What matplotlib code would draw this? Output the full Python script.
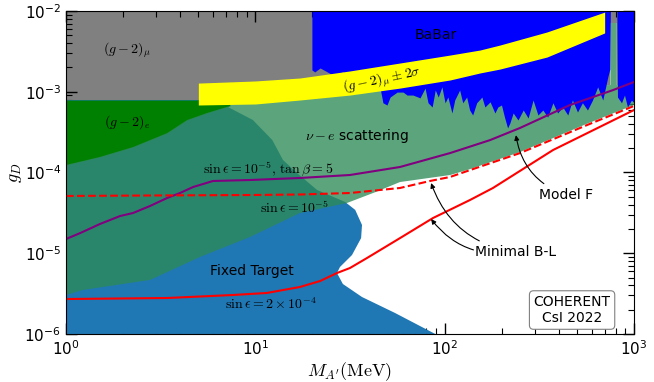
import matplotlib
matplotlib.use('Agg')
import matplotlib.pyplot as plt
import numpy as np

# (g-2)_mu grey region, lower edge
gray_x = [1, 7.35, 7.35, 750, 750, 812, 812, 1000]
gray_lo = [7.9e-4, 7.9e-4, 1.21e-3, 1.21e-3, 7.1e-3, 7.1e-3, 1.21e-3, 1.21e-3]

# (g-2)_e green region
ge_x = [1, 1.51, 2.26, 3.42, 4.36, 5.55, 7.35]
ge_lo = [1.24e-4, 1.56e-4, 2.07e-4, 3.08e-4, 4.47e-4, 5.46e-4, 6.67e-4]
ge_hi = 7.9e-4

# Fixed target polygon
ft_x = [1, 89.2, 54.7, 36.6, 29.0, 27.0, 28.0, 32.4, 36.2, 36.6, 33.7, 29.8,
        21.2, 16.6, 14.0, 12.3, 9.71, 7.16, 7.16, 1]
ft_y = [1e-6, 1e-6, 1.82e-6, 2.87e-6, 4.16e-6, 5.69e-6, 6.76e-6, 9.5e-6, 1.54e-5, 2.24e-5,
        3.44e-5, 4.32e-5, 6.07e-5, 9.86e-5, 1.43e-4, 2.52e-4, 4.47e-4, 6.48e-4, 7.9e-4, 7.9e-4]

# nu-e scattering region: upper edge then lower edge (right to left)
nue_top_x = [1, 1.51, 2.26, 3.42, 4.36, 5.55, 7.35, 7.35, 750, 750, 812, 812, 1000]
nue_top_y = [1.24e-4, 1.56e-4, 2.07e-4, 3.08e-4, 4.47e-4, 5.46e-4, 6.67e-4, 1.21e-3,
             1.21e-3, 7.1e-3, 7.1e-3, 1.21e-3, 1.21e-3]
nue_bot_x = [1000, 561, 250, 136, 107, 58.1, 43.3, 30.5, 17.2, 9.37, 5.10, 2.78, 1.23, 1]
nue_bot_y = [6.85e-4, 3.99e-4, 1.79e-4, 1.10e-4, 9.31e-5, 7.62e-5, 5.74e-5, 4.19e-5,
             3.15e-5, 1.59e-5, 8.99e-6, 4.67e-6, 3.51e-6, 3.04e-6]

# BaBar lower edge
babar_x = [19.9, 20.6, 22.0, 25.7, 29.0, 33.7, 45.3, 47.2, 49.6, 51.5, 56.1, 60.3, 63.3, 68.0,
           74.1, 78.8, 81.7, 85.9, 89.2, 92.5, 96.7, 100.5, 104, 109.3, 113, 120, 124.6, 130.7,
           135.5, 140.6, 147.6, 157.3, 163.1, 173.8, 184.2, 191, 199.6, 207, 215, 221, 230,
           244, 260, 276, 293, 311, 330, 350, 373, 395, 420, 447, 473, 503, 534, 568, 604,
           643, 684, 727, 745, 750, 812, 818, 859, 891, 924, 970, 1000]
babar_lo = [1.86e-3, 1.76e-3, 1.97e-3, 1.61e-3, 1.76e-3, 1.40e-3, 1.21e-3, 7.3e-4, 6.85e-4,
            8.6e-4, 9.9e-4, 9.9e-4, 9.1e-4, 9.1e-4, 8.4e-4, 1.11e-3, 7.3e-4, 6.48e-4, 1.05e-3,
            8.6e-4, 1.15e-3, 7.3e-4, 8.6e-4, 5.46e-4, 7.9e-4, 1.05e-3, 7.3e-4, 8.6e-4, 5.94e-4,
            5.15e-4, 7.3e-4, 8.6e-4, 6.48e-4, 7.5e-4, 5.46e-4, 6.48e-4, 6.85e-4, 4.86e-4,
            3.56e-4, 4.10e-4, 5.46e-4, 4.47e-4, 5.94e-4, 4.73e-4, 7.9e-4, 5.15e-4, 5.94e-4,
            4.86e-4, 7.3e-4, 5.46e-4, 6.48e-4, 5.15e-4, 7.9e-4, 5.61e-4, 7.3e-4, 5.94e-4,
            7.9e-4, 1.15e-3, 7.9e-4, 1.52e-3, 1.9e-3, 1e-2, 1e-2, 8.6e-4, 7.3e-4, 9.1e-4,
            6.48e-4, 7.9e-4, 7.3e-4]

# (g-2)_mu +- 2 sigma band
band_x = [5.0, 10, 17.2, 31.6, 58.1, 107, 154, 196, 347, 700]
band_hi = [1.28e-3, 1.36e-3, 1.48e-3, 1.81e-3, 2.27e-3, 2.85e-3, 3.29e-3, 3.79e-3, 5.5e-3, 9.7e-3]
band_lo = [6.85e-4, 7.05e-4, 7.9e-4, 9.1e-4, 1.11e-3, 1.40e-3, 1.71e-3, 1.91e-3, 2.69e-3, 5.35e-3]

# Model F: sin eps = 1e-5, tan beta = 5
mf_x = [1.0, 1.19, 1.51, 1.93, 2.26, 2.78, 3.42, 4.00, 4.69, 5.98, 9.37, 17.2, 31.6, 58.1,
        106.8, 173.8, 250, 459, 776, 1000]
mf_y = [1.50e-5, 1.78e-5, 2.30e-5, 2.89e-5, 3.15e-5, 3.85e-5, 4.83e-5, 5.57e-5, 6.61e-5,
        7.85e-5, 8.07e-5, 8.55e-5, 9.31e-5, 1.17e-4, 1.74e-4, 2.52e-4, 3.56e-4, 6.85e-4,
        1.05e-3, 1.32e-3]

# Minimal B-L: sin eps = 1e-5 (dashed)
bl5_x = [1.0, 2.78, 9.37, 17.2, 31.6, 58.1, 83.7, 106.8, 136, 250, 565, 1000]
bl5_y = [5.12e-5, 5.19e-5, 5.26e-5, 5.34e-5, 5.57e-5, 6.43e-5, 7.85e-5, 8.8e-5, 1.07e-4,
         1.74e-4, 3.87e-4, 6.67e-4]

# Minimal B-L: sin eps = 2e-4 (solid)
bl4_x = [1.0, 3.42, 7.62, 11.5, 17.2, 22.0, 27.0, 31.6, 38.9, 58.1, 86.8, 136, 180, 374, 1000]
bl4_y = [2.71e-6, 2.79e-6, 3.04e-6, 3.22e-6, 3.82e-6, 4.53e-6, 5.69e-6, 6.56e-6, 8.73e-6,
         1.54e-5, 2.73e-5, 4.56e-5, 6.43e-5, 1.90e-4, 5.94e-4]

fig = plt.figure(figsize=(6.54, 3.82), dpi=100)
ax = fig.add_axes([0.1009, 0.1257, 0.8685, 0.8455])
ax.set_xscale('log')
ax.set_yscale('log')
ax.set_xlim(1, 1000)
ax.set_ylim(1e-6, 1e-2)

# Shaded regions
ax.fill_between(gray_x, gray_lo, 1e-2, color='gray', lw=0, zorder=1)
ax.fill(ft_x, ft_y, color='#1f77b4', lw=0, zorder=2)
ax.fill_between(ge_x, ge_lo, ge_hi, color='green', lw=0, zorder=3)
ax.fill(nue_top_x + nue_bot_x, nue_top_y + nue_bot_y, color='seagreen', alpha=0.78, lw=0, zorder=4)
ax.fill_between(babar_x, babar_lo, 1e-2, color='blue', lw=0, zorder=5)
ax.fill_between(band_x, band_lo, band_hi, color='yellow', lw=0, zorder=6)

# Lines
ax.plot(mf_x, mf_y, color='purple', lw=1.5, zorder=7)
ax.plot(bl5_x, bl5_y, color='red', lw=1.5, ls='--', zorder=7)
ax.plot(bl4_x, bl4_y, color='red', lw=1.5, zorder=7)

# Labels inside
cm = dict(math_fontfamily='cm', zorder=8, ha='center', va='center')
ax.text(2.10, 3.29e-3, r'$(g-2)_\mu$', fontsize=10, **cm)
ax.text(2.10, 4.22e-4, r'$(g-2)_e$', fontsize=10, **cm)
ax.text(90, 5.05e-3, 'BaBar', fontsize=10, **cm)
ax.text(34.5, 2.83e-4, r'$\nu-e$ scattering', fontsize=10, **cm)
ax.text(11.7, 1.10e-4, r'$\sin\epsilon=10^{-5},\,\tan\beta=5$', fontsize=10, **cm)
ax.text(16.0, 3.63e-5, r'$\sin\epsilon=10^{-5}$', fontsize=10, **cm)
ax.text(9.6, 6.03e-6, 'Fixed Target', fontsize=10, **cm)
ax.text(12.0, 2.35e-6, r'$\sin\epsilon=2\times10^{-4}$', fontsize=10, **cm)
ax.text(46.7, 1.40e-3, r'$(g-2)_\mu \pm 2\sigma$', fontsize=10, rotation=12, **cm)
ax.text(471, 1.98e-6, 'COHERENT\nCsI 2022', fontsize=10, ha='center', va='center',
        linespacing=1.2, zorder=9,
        bbox=dict(boxstyle='round,pad=0.3', fc='white', ec='gray', lw=0.8))

# Arrows
arr = dict(arrowstyle='-|>', color='black', lw=0.8, mutation_scale=7, shrinkB=0)
ax.annotate('Model F', xy=(238, 2.9e-4), xytext=(438, 5.26e-5), fontsize=10,
            ha='center', va='center', zorder=9,
            arrowprops=dict(connectionstyle='arc3,rad=-0.3', shrinkA=2, **arr))
ax.annotate('Minimal B-L', xy=(84.8, 7.4e-5), xytext=(235.5, 1.04e-5), fontsize=10,
            ha='center', va='center', zorder=9,
            arrowprops=dict(connectionstyle='arc3,rad=-0.3', shrinkA=2, **arr))
ax.annotate('', xy=(84.8, 2.65e-5), xytext=(235.5, 1.04e-5), zorder=9,
            arrowprops=dict(connectionstyle='arc3,rad=-0.3', shrinkA=30, **arr))

# Axes
ax.set_xlabel(r"$M_{A'}(\mathrm{MeV})$", fontsize=13, math_fontfamily='cm', labelpad=2)
ax.set_ylabel(r'$g_D$', fontsize=13, math_fontfamily='cm', labelpad=0)
ax.tick_params(which='both', direction='in', top=True, right=True, labelsize=11)
ax.tick_params(which='major', length=8, width=1)
ax.tick_params(which='minor', length=4, width=0.8)
for s in ax.spines.values():
    s.set_zorder(10)

plt.savefig('out.png', dpi=100)
